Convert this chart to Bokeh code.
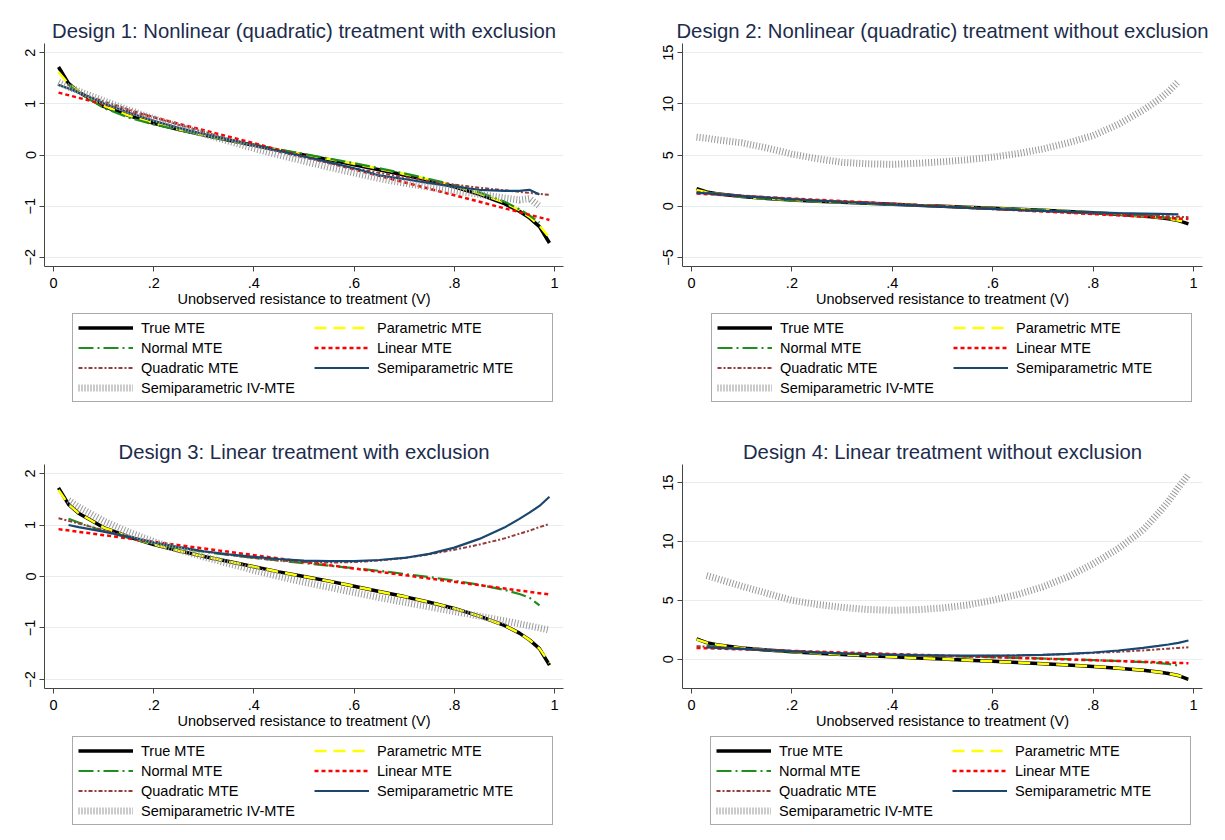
import math
from bokeh.plotting import figure
from bokeh.models import Range1d, FixedTicker, Legend, LegendItem
from bokeh.layouts import gridplot
from bokeh.embed import file_html
from bokeh.resources import INLINE

NAN = float("nan")

# ---------------- data ----------------
V = [0.01, 0.03, 0.05, 0.10, 0.15, 0.20, 0.25, 0.30, 0.35, 0.40, 0.45, 0.50,
     0.55, 0.60, 0.65, 0.70, 0.75, 0.80, 0.85, 0.90, 0.93, 0.95, 0.97, 0.99]
V_LIN = [0.01, 0.99]

SERIES_NAMES = ["True MTE", "Parametric MTE", "Normal MTE", "Linear MTE",
                "Quadratic MTE", "Semiparametric MTE", "Semiparametric IV-MTE"]

X_TICKS = [0, 0.2, 0.4, 0.6, 0.8, 1.0]
X_TICK_LABELS = ["0", ".2", ".4", ".6", ".8", "1"]
X_TITLE = "Unobserved resistance to treatment (V)"

TITLES = ["Design 1: Nonlinear (quadratic) treatment with exclusion",
          "Design 2: Nonlinear (quadratic) treatment without exclusion",
          "Design 3: Linear treatment with exclusion",
          "Design 4: Linear treatment without exclusion"]

Y_TICKS_1 = [-2, -1, 0, 1, 2]
Y_TICKS_2 = [-5, 0, 5, 10, 15]
Y_TICKS_3 = [-2, -1, 0, 1, 2]
Y_TICKS_4 = [0, 5, 10, 15]

# Design 1
D1_TRUE = [1.72, 1.40, 1.23, 0.95, 0.77, 0.62, 0.50, 0.39, 0.29, 0.19, 0.09, 0.00,
           -0.09, -0.19, -0.29, -0.39, -0.50, -0.62, -0.77, -0.95, -1.10, -1.23, -1.40, -1.72]
D1_PARAM = [1.62, 1.39, 1.24, 0.96, 0.77, 0.62, 0.50, 0.39, 0.29, 0.19, 0.10, 0.01,
            -0.08, -0.17, -0.27, -0.37, -0.48, -0.60, -0.75, -0.93, -1.08, -1.21, -1.38, -1.62]
D1_NORMAL = [NAN, 1.37, 1.22, 0.92, 0.73, 0.60, 0.49, 0.39, 0.29, 0.20, 0.11, 0.02,
             -0.07, -0.16, -0.26, -0.36, -0.47, -0.59, -0.73, -0.91, -1.06, -1.18, -1.32, NAN]
D1_LINEAR = [1.22, -1.27]
D1_QUAD = [1.37, 1.30, 1.22, 1.05, 0.89, 0.74, 0.59, 0.45, 0.31, 0.18, 0.06, -0.05,
           -0.16, -0.26, -0.35, -0.43, -0.51, -0.58, -0.64, -0.69, -0.72, -0.74, -0.76, -0.78]
D1_SEMI = [1.37, 1.30, 1.22, 1.01, 0.83, 0.67, 0.53, 0.41, 0.30, 0.19, 0.08, -0.03,
           -0.14, -0.26, -0.40, -0.47, -0.55, -0.62, -0.68, -0.70, -0.70, -0.68, -0.77, NAN]
D1_IVMTE = [1.42, 1.33, 1.25, 1.06, 0.88, 0.71, 0.56, 0.41, 0.27, 0.13, 0.00, -0.12,
            -0.24, -0.35, -0.46, -0.55, -0.63, -0.70, -0.77, -0.84, -0.88, -0.85, -1.00, NAN]

# Design 2
D2_TRUE = [1.72, 1.40, 1.23, 0.95, 0.77, 0.62, 0.50, 0.39, 0.29, 0.19, 0.09, 0.00,
           -0.09, -0.19, -0.29, -0.39, -0.50, -0.62, -0.77, -0.95, -1.10, -1.23, -1.40, -1.72]
D2_PARAM = [1.60, 1.38, 1.23, 0.95, 0.77, 0.62, 0.50, 0.39, 0.29, 0.19, 0.10, 0.01,
            -0.08, -0.18, -0.28, -0.38, -0.49, -0.61, -0.76, -0.94, -1.09, -1.22, -1.39, -1.62]
D2_NORMAL = [NAN, 1.36, 1.21, 0.93, 0.75, 0.61, 0.49, 0.39, 0.29, 0.19, 0.10, 0.01,
             -0.08, -0.18, -0.28, -0.38, -0.49, -0.61, -0.75, -0.92, -1.06, -1.18, -1.32, NAN]
D2_LINEAR = [1.24, -1.24]
D2_QUAD = [1.40, 1.32, 1.24, 1.06, 0.89, 0.73, 0.58, 0.44, 0.31, 0.18, 0.06, -0.06,
           -0.17, -0.28, -0.38, -0.48, -0.58, -0.68, -0.78, -0.88, -0.94, -0.98, -1.02, -1.06]
D2_SEMI = [1.32, 1.26, 1.19, 1.00, 0.84, 0.69, 0.55, 0.42, 0.30, 0.18, 0.07, -0.04,
           -0.15, -0.26, -0.36, -0.45, -0.53, -0.60, -0.66, -0.71, -0.74, -0.76, -0.78, NAN]
D2_IVMTE = [6.75, 6.65, 6.50, 6.20, 5.70, 5.10, 4.65, 4.30, 4.15, 4.10, 4.20, 4.35,
            4.55, 4.80, 5.15, 5.60, 6.20, 6.90, 8.00, 9.40, 10.40, 11.20, 12.20, NAN]

# Design 3
D3_TRUE = [1.72, 1.40, 1.23, 0.95, 0.77, 0.62, 0.50, 0.39, 0.29, 0.19, 0.09, 0.00,
           -0.09, -0.19, -0.29, -0.39, -0.50, -0.62, -0.77, -0.95, -1.10, -1.23, -1.40, -1.72]
D3_PARAM = [1.68, 1.40, 1.23, 0.95, 0.77, 0.62, 0.50, 0.39, 0.29, 0.19, 0.09, 0.00,
            -0.09, -0.19, -0.29, -0.39, -0.50, -0.62, -0.77, -0.95, -1.10, -1.23, -1.40, -1.68]
D3_NORMAL = [NAN, 1.12, 1.05, 0.88, 0.75, 0.64, 0.55, 0.48, 0.42, 0.36, 0.31, 0.26,
             0.21, 0.16, 0.11, 0.05, -0.01, -0.08, -0.16, -0.26, -0.34, -0.41, -0.56, NAN]
D3_LINEAR = [0.92, -0.35]
D3_QUAD = [1.13, 1.08, 1.03, 0.90, 0.78, 0.67, 0.57, 0.49, 0.42, 0.36, 0.31, 0.28,
           0.27, 0.28, 0.31, 0.36, 0.43, 0.52, 0.62, 0.74, 0.83, 0.89, 0.96, 1.02]
D3_SEMI = [NAN, 1.00, 0.96, 0.87, 0.77, 0.66, 0.57, 0.49, 0.43, 0.38, 0.34, 0.31,
           0.30, 0.30, 0.32, 0.36, 0.44, 0.56, 0.73, 0.95, 1.12, 1.24, 1.37, 1.55]
D3_IVMTE = [NAN, 1.48, 1.35, 1.08, 0.86, 0.68, 0.52, 0.38, 0.25, 0.12, 0.00, -0.11,
            -0.21, -0.31, -0.41, -0.50, -0.59, -0.68, -0.77, -0.86, -0.92, -0.96, -1.00, -1.04]

# Design 4
D4_TRUE = [1.72, 1.40, 1.23, 0.95, 0.77, 0.62, 0.50, 0.39, 0.29, 0.19, 0.09, 0.00,
           -0.09, -0.19, -0.29, -0.39, -0.50, -0.62, -0.77, -0.95, -1.10, -1.23, -1.40, -1.72]
D4_PARAM = [1.68, 1.40, 1.23, 0.95, 0.77, 0.62, 0.50, 0.39, 0.29, 0.19, 0.09, 0.00,
            -0.09, -0.19, -0.29, -0.39, -0.50, -0.62, -0.77, -0.95, -1.10, -1.23, -1.40, -1.68]
D4_NORMAL = [NAN, 1.12, 1.05, 0.88, 0.75, 0.64, 0.55, 0.48, 0.42, 0.36, 0.31, 0.26,
             0.21, 0.16, 0.11, 0.05, -0.01, -0.08, -0.16, -0.26, -0.34, -0.41, -0.55, NAN]
D4_LINEAR = [0.95, -0.35]
D4_QUAD = [1.10, 1.06, 1.02, 0.90, 0.78, 0.67, 0.57, 0.49, 0.42, 0.36, 0.31, 0.28,
           0.27, 0.28, 0.31, 0.36, 0.43, 0.52, 0.62, 0.74, 0.83, 0.89, 0.95, 1.00]
D4_SEMI = [NAN, 1.00, 0.96, 0.87, 0.77, 0.66, 0.57, 0.49, 0.43, 0.38, 0.34, 0.31,
           0.30, 0.30, 0.32, 0.36, 0.44, 0.56, 0.73, 0.95, 1.12, 1.24, 1.38, 1.58]
D4_IVMTE = [NAN, 7.10, 6.85, 6.20, 5.60, 5.00, 4.65, 4.40, 4.22, 4.15, 4.20, 4.35,
            4.60, 5.00, 5.50, 6.15, 7.00, 8.10, 9.40, 11.00, 12.40, 13.40, 14.60, 15.70]

# ---------------- styles ----------------
STYLE = [
    dict(line_color="black", line_width=3.5, line_dash="solid"),
    dict(line_color="#ffff00", line_width=2.5, line_dash="12 7"),
    dict(line_color="#1e8f1e", line_width=2.2, line_dash="15 4 2 4"),
    dict(line_color="#ff0000", line_width=2.5, line_dash="4 3"),
    dict(line_color="#963c3c", line_width=2.0, line_dash="4 2 2 2"),
    dict(line_color="#1a476f", line_width=2.2, line_dash="solid"),
    dict(line_color="#999999", line_width=7, line_dash="1 2"),
]

FONT = "Liberation Sans"
COL_W = 612


def draw_series(p, ys):
    rs = []
    for y, st in zip(ys, STYLE):
        xs = V_LIN if len(y) == 2 else V
        rs.append(p.line(xs, y, line_cap="butt", **st))
    return rs


def make_panel(title, ys, y_range, y_ticks, height, b_left, b_right, b_top):
    p = figure(width=COL_W, height=height,
               x_range=Range1d(-0.018, 1.018), y_range=Range1d(*y_range),
               output_backend="svg", toolbar_location=None,
               min_border_left=b_left, min_border_right=b_right,
               min_border_top=b_top, min_border_bottom=47,
               background_fill_color="white", border_fill_color="white")
    p.outline_line_color = None

    p.title.text = title
    p.title.text_font = FONT
    p.title.text_font_size = "20.3px"
    p.title.text_font_style = "normal"
    p.title.text_color = "#1c2c4c"
    p.title.align = "center"
    p.title.standoff = 3

    p.xaxis.ticker = FixedTicker(ticks=X_TICKS)
    p.xaxis.major_label_overrides = dict(zip(X_TICKS, X_TICK_LABELS))
    p.xaxis.axis_label = X_TITLE
    p.yaxis.ticker = FixedTicker(ticks=y_ticks)
    p.yaxis.major_label_orientation = "vertical"

    for ax in (p.xaxis[0], p.yaxis[0]):
        ax.axis_line_color = "#444444"
        ax.major_tick_line_color = "#444444"
        ax.major_tick_out = 5
        ax.major_tick_in = 0
        ax.minor_tick_out = 0
        ax.minor_tick_in = 0
        ax.major_label_text_font = FONT
        ax.major_label_text_font_size = "14.5px"
        ax.major_label_text_color = "black"
        ax.axis_label_text_font = FONT
        ax.axis_label_text_font_size = "14.5px"
        ax.axis_label_text_font_style = "normal"
        ax.axis_label_text_color = "black"
        ax.axis_label_standoff = 0
    p.xaxis.major_label_standoff = 6
    p.yaxis.major_label_standoff = 4

    p.xgrid.visible = False
    p.ygrid.grid_line_color = "#e6eef0"
    p.ygrid.grid_line_width = 1

    draw_series(p, ys)
    return p


def make_legend_fig(ys, height, b_left, b_right, leg_x, leg_y):
    # same series, drawn off-view: only their legend samples are seen
    lf = figure(width=COL_W, height=height,
                x_range=Range1d(0, 1), y_range=Range1d(100, 101),
                x_axis_type=None, y_axis_type=None,
                output_backend="svg", toolbar_location=None,
                min_border_left=b_left, min_border_right=b_right,
                min_border_top=0, min_border_bottom=0,
                background_fill_color="white", border_fill_color="white")
    lf.outline_line_color = None
    lf.title.visible = False
    rs = draw_series(lf, ys)
    items = [LegendItem(label=n, renderers=[r]) for n, r in zip(SERIES_NAMES, rs)]
    legend = Legend(items=items, orientation="horizontal", ncols=2,
                    location=(leg_x, leg_y), margin=0,
                    label_text_font=FONT, label_text_font_size="14.5px",
                    label_text_color="black",
                    glyph_width=55, glyph_height=17, label_height=17,
                    label_standoff=8, label_width=170, spacing=3, padding=5,
                    border_line_color="#555555", border_line_width=1,
                    background_fill_color="white", background_fill_alpha=1.0)
    lf.add_layout(legend)
    return lf


D1 = [D1_TRUE, D1_PARAM, D1_NORMAL, D1_LINEAR, D1_QUAD, D1_SEMI, D1_IVMTE]
D2 = [D2_TRUE, D2_PARAM, D2_NORMAL, D2_LINEAR, D2_QUAD, D2_SEMI, D2_IVMTE]
D3 = [D3_TRUE, D3_PARAM, D3_NORMAL, D3_LINEAR, D3_QUAD, D3_SEMI, D3_IVMTE]
D4 = [D4_TRUE, D4_PARAM, D4_NORMAL, D4_LINEAR, D4_QUAD, D4_SEMI, D4_IVMTE]

p1 = make_panel(TITLES[0], D1, (-2.18, 2.18), Y_TICKS_1, 313, 44, 49, 43)
p2 = make_panel(TITLES[1], D2, (-5.88, 15.9), Y_TICKS_2, 313, 69, 22, 43)
p3 = make_panel(TITLES[2], D3, (-2.175, 2.175), Y_TICKS_3, 314, 44, 49, 43)
p4 = make_panel(TITLES[3], D4, (-2.5, 16.55), Y_TICKS_4, 314, 70, 22, 43)

l1 = make_legend_fig(D1, 108, 44, 49, 28, 19)
l2 = make_legend_fig(D2, 108, 69, 22, 29, 19)
l3 = make_legend_fig(D3, 102, 44, 49, 28, 12)
l4 = make_legend_fig(D4, 102, 70, 22, 28, 12)

grid = gridplot([[p1, p2], [l1, l2], [p3, p4], [l3, l4]], toolbar_location=None)

open("out.html", "w").write(file_html(grid, INLINE))
